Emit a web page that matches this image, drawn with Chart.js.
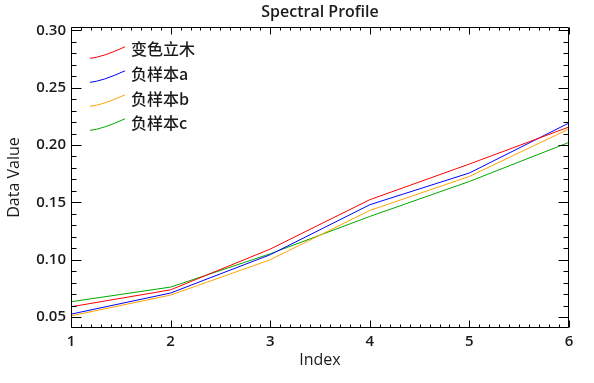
<!DOCTYPE html>
<html>
<head>
<meta charset="utf-8">
<script src="https://cdn.jsdelivr.net/npm/chart.js@4.4.1/dist/chart.umd.min.js"></script>
<style>
  html, body { margin: 0; padding: 0; background: #ffffff; }
  #wrap { width: 594px; height: 383px; }
</style>
</head>
<body>
<div id="wrap"><canvas id="c" width="594" height="383"></canvas></div>
<script>
// ---- data ----
const chartTitle = 'Spectral Profile';
const xTitle = 'Index';
const yTitle = 'Data Value';
const indexValues = [1, 2, 3, 4, 5, 6];
const seriesNames = ['变色立木', '负样本a', '负样本b', '负样本c'];
const redValues    = [0.0589, 0.0737, 0.1092, 0.1523, 0.1834, 0.2157];
const blueValues   = [0.0525, 0.0709, 0.1043, 0.1479, 0.1756, 0.2192];
const orangeValues = [0.0510, 0.0691, 0.0999, 0.1429, 0.1726, 0.2140];
const greenValues  = [0.0633, 0.0761, 0.1051, 0.1377, 0.1682, 0.2023];
const yMajorTicks = [0.05, 0.10, 0.15, 0.20, 0.25, 0.30];
const xMajorTicks = [1, 2, 3, 4, 5, 6];
const yRange = [0.0404, 0.3029];
const xRange = [1, 6];
const yMinorStep = 0.01;
const xMinorStep = 0.1;

const colors = ['#ff0000', '#0000ff', '#ffa500', '#00a800'];
const allValues = [redValues, blueValues, orangeValues, greenValues];

const toPoints = vals => vals.map((v, i) => ({ x: indexValues[i], y: v }));

const FONT = "'Open Sans', 'DejaVu Sans', sans-serif";
const TXT = '#1a1a1a';

const framePlugin = {
  id: 'frame',
  afterDatasetsDraw(chart) {
    const { ctx, chartArea: a, scales } = chart;
    const xs = scales.x, ys = scales.y;
    const L = Math.round(a.left) + 0.5, R = Math.round(a.right) - 0.5;
    const T = Math.round(a.top) + 0.5, B = Math.round(a.bottom) - 0.5;
    ctx.save();
    ctx.strokeStyle = '#000';
    ctx.lineWidth = 1;
    ctx.beginPath();
    ctx.rect(L, T, R - L, B - T);
    // y ticks (left & right)
    const yStart = Math.ceil(yRange[0] / yMinorStep - 1e-6);
    for (let k = yStart; k * yMinorStep <= yRange[1] + 1e-9; k++) {
      const v = k * yMinorStep;
      const major = Math.abs(Math.round(v / 0.05) * 0.05 - v) < 1e-6;
      const len = major ? 10 : 5;
      const py = Math.round(ys.getPixelForValue(v)) + 0.5;
      ctx.moveTo(L, py); ctx.lineTo(L + len, py);
      ctx.moveTo(R, py); ctx.lineTo(R - len, py);
    }
    // x ticks (bottom & top)
    for (let k = Math.round(xRange[0] / xMinorStep); k * xMinorStep <= xRange[1] + 1e-9; k++) {
      const v = k * xMinorStep;
      const major = Math.abs(Math.round(v) - v) < 1e-6;
      const len = major ? 7 : 3;
      const px = Math.round(xs.getPixelForValue(v)) + 0.5;
      ctx.moveTo(px, B); ctx.lineTo(px, B - len);
      ctx.moveTo(px, T); ctx.lineTo(px, T + len);
    }
    ctx.stroke();

    // title centred over the plot area
    ctx.fillStyle = TXT;
    ctx.font = "600 16px " + FONT;
    ctx.textAlign = 'center';
    ctx.textBaseline = 'middle';
    ctx.fillText(chartTitle, (a.left + a.right) / 2, 12);

    // legend (lines + labels)
    const legX0 = 90, legX1 = 125, legTextX = 131;
    const legLineY0 = 58.3, legLineStep = 24;
    const legTextY0 = 49, legTextStep = 24.8;
    ctx.lineWidth = 1;
    seriesNames.forEach((name, i) => {
      const yb = legLineY0 + i * legLineStep;
      ctx.strokeStyle = colors[i];
      ctx.beginPath();
      ctx.moveTo(legX0, yb);
      ctx.quadraticCurveTo(legX0 + 12, yb - 1, legX1, yb - 11.5);
      ctx.stroke();
      ctx.fillStyle = TXT;
      ctx.font = "500 16px 'Noto Sans CJK SC', 'Open Sans', sans-serif";
      ctx.textBaseline = 'middle';
      ctx.textAlign = 'left';
      ctx.fillText(name, legTextX, legTextY0 + i * legTextStep);
    });
    ctx.restore();
  }
};

new Chart(document.getElementById('c'), {
  type: 'line',
  data: {
    datasets: seriesNames.map((name, i) => ({
      label: name,
      data: toPoints(allValues[i]),
      borderColor: colors[i],
      backgroundColor: colors[i],
      borderWidth: 1,
      pointRadius: 0,
      tension: 0,
      fill: false
    }))
  },
  options: {
    responsive: false,
    animation: false,
    devicePixelRatio: 1,
    layout: { padding: { left: 0, right: 25, top: 27, bottom: 0 } },
    plugins: {
      legend: { display: false },
      tooltip: { enabled: false },
      title: { display: false }
    },
    scales: {
      x: {
        type: 'linear',
        min: xRange[0],
        max: xRange[1],
        afterBuildTicks: s => { s.ticks = xMajorTicks.map(v => ({ value: v })); },
        afterFit: s => { s.height = 55; },
        grid: { display: false, drawTicks: false },
        border: { display: false },
        ticks: {
          padding: 5,
          color: TXT,
          maxRotation: 0,
          font: { family: FONT, size: 15, weight: '600' },
          callback: v => String(v)
        },
        title: {
          display: true,
          text: xTitle,
          color: TXT,
          font: { family: FONT, size: 16, weight: '500', lineHeight: 1.2 },
          padding: { top: 0, bottom: 13 }
        }
      },
      y: {
        type: 'linear',
        min: yRange[0],
        max: yRange[1],
        afterBuildTicks: s => { s.ticks = yMajorTicks.map(v => ({ value: v })); },
        afterFit: s => { s.width = 71; },
        grid: { display: false, drawTicks: false },
        border: { display: false },
        ticks: {
          padding: 5,
          color: TXT,
          font: { family: FONT, size: 15, weight: '600' },
          callback: v => Number(v).toFixed(2)
        },
        title: {
          display: true,
          text: yTitle,
          color: TXT,
          font: { family: FONT, size: 16, weight: '500', lineHeight: 1.2 },
          padding: { top: 5, bottom: 0 }
        }
      }
    }
  },
  plugins: [framePlugin]
});
</script>
</body>
</html>
